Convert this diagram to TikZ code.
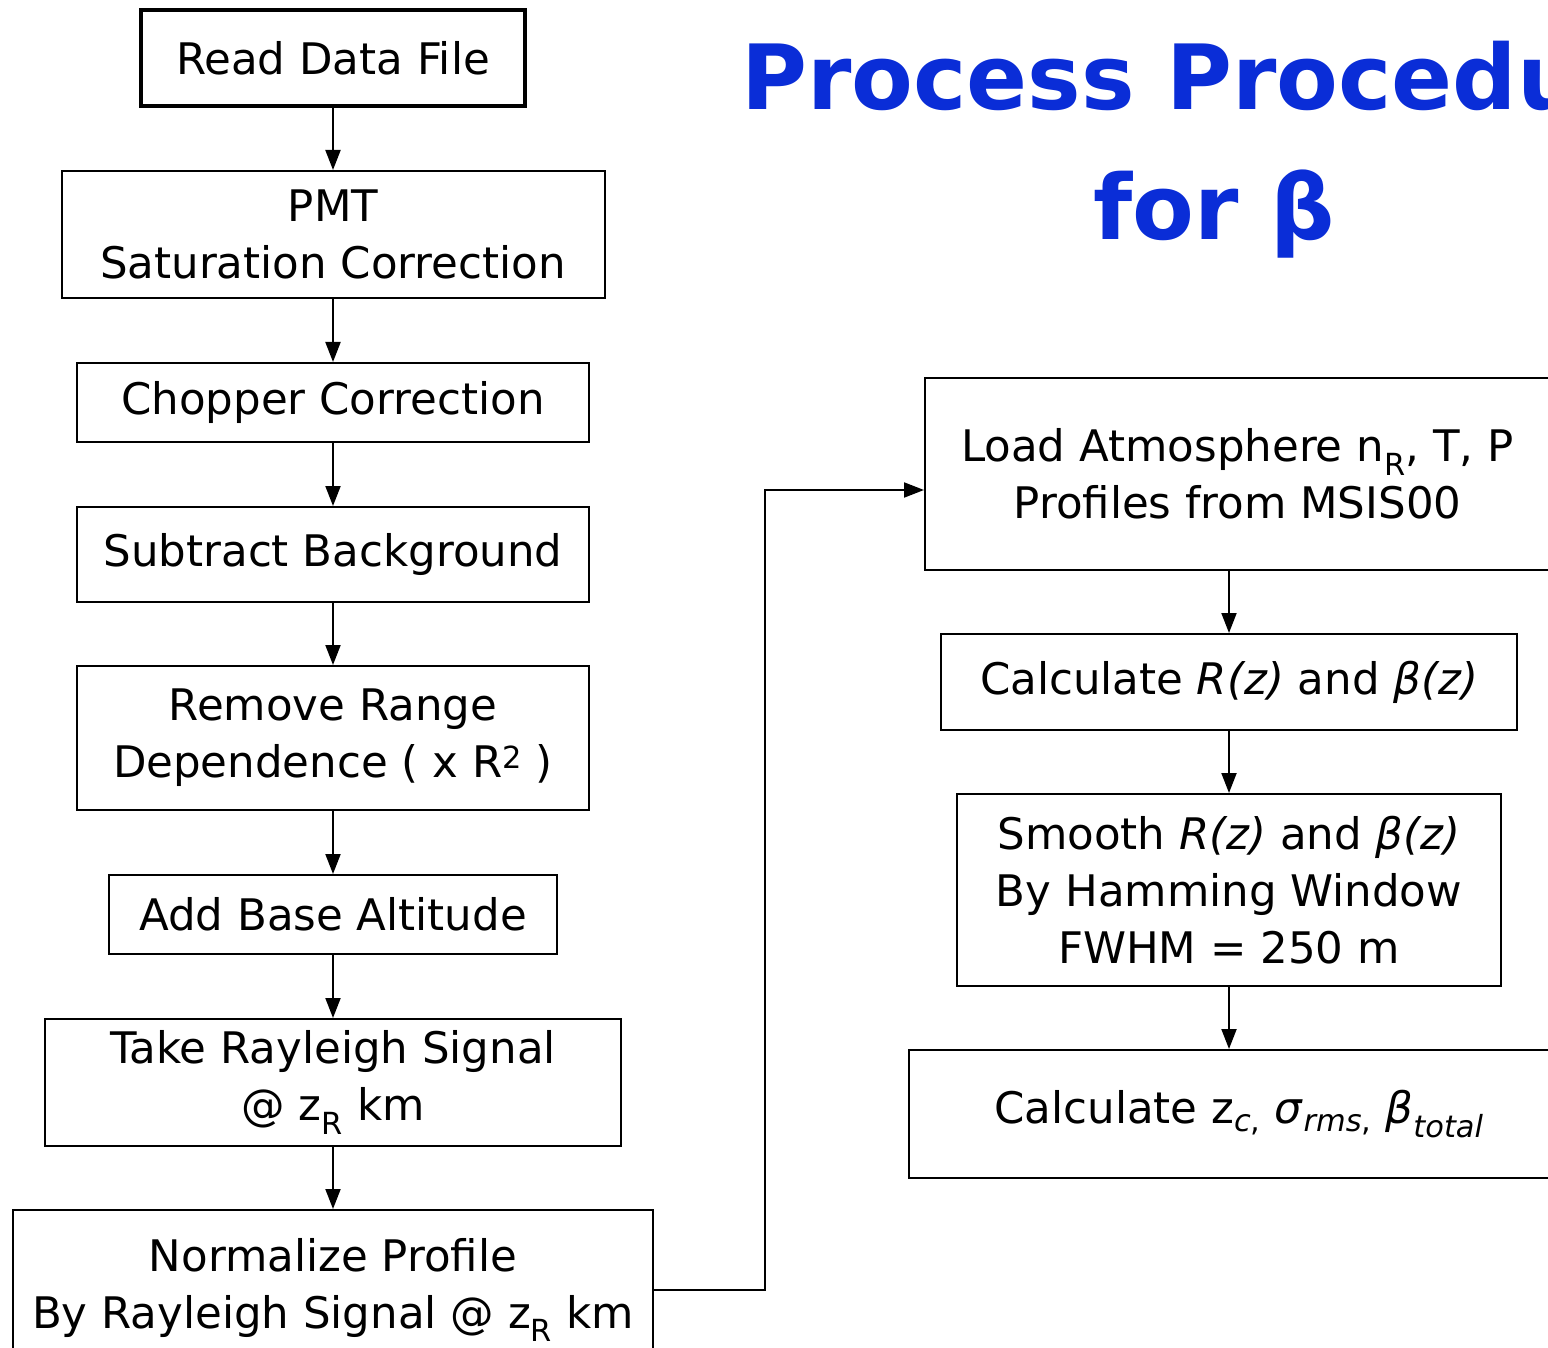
\documentclass[tikz,border=0pt]{standalone}
\usepackage{fontspec}
\setmainfont{DejaVu Sans}
\usetikzlibrary{arrows.meta}
\definecolor{titleblue}{RGB}{10,45,215}
\tikzset{
  box/.style={draw, line width=2pt, inner sep=0pt, align=center,
    font=\fontsize{43.5}{57}\selectfont},
  arr/.style={line width=2pt, -{Triangle[length=20pt,width=15pt]}},
  titletext/.style={font=\fontsize{90}{130}\selectfont\bfseries, text=titleblue, anchor=base, inner sep=0pt}
}
\begin{document}
\begin{tikzpicture}[x=1pt,y=-1pt]
\useasboundingbox (0,0) rectangle (1548,1348);
\clip (0,0) rectangle (1548,1348);
\fill[white] (0,0) rectangle (1548,1348);

% left column
\node[box, line width=3.5pt, minimum width=384pt, minimum height=96pt] (n1) at (333,58) {Read Data File};
\node[box, minimum width=543pt, minimum height=127pt] (n2) at (333,234.5) {PMT\\Saturation Correction};
\node[box, minimum width=512pt, minimum height=79pt] (n3) at (333,402.5) {Chopper Correction};
\node[box, minimum width=512pt, minimum height=95pt] (n4) at (333,554.5) {Subtract Background};
\node[box, minimum width=512pt, minimum height=144pt] (n5) at (333,738) {Remove Range\\Dependence ( x R\textsuperscript{2} )};
\node[box, minimum width=448pt, minimum height=79pt] (n6) at (333,914.5) {Add Base Altitude};
\node[box, minimum width=576pt, minimum height=127pt] (n7) at (333,1082.5) {Take Rayleigh Signal\\@ z\textsubscript{R} km};
\node[box, minimum width=640pt, minimum height=160pt] (n8) at (333,1290) {Normalize Profile\\By Rayleigh Signal @ z\textsubscript{R} km};

% right column
\node[box, minimum width=625pt, minimum height=192pt] (n9) at (1237.5,474) {Load Atmosphere n\textsubscript{R}, T, P\\Profiles from MSIS00};
\node[box, minimum width=576pt, minimum height=96pt] (n10) at (1229,682) {Calculate \textit{R(z)} and \textit{β(z)}};
\node[box, minimum width=544pt, minimum height=192pt] (n11) at (1229,890) {Smooth \textit{R(z)} and \textit{β(z)}\\By Hamming Window\\FWHM = 250 m};
\node[box, minimum width=660pt, minimum height=128pt] (n12) at (1239,1114) {Calculate z\textsubscript{\textit{c},} \textit{σ}\textsubscript{\textit{rms},} \textit{β}\textsubscript{\textit{total}}};

% title
\node[titletext] (t1) at (1214,110) {Process Procedure};
\node[titletext] (t2) at (1214,240) {for β};

% connectors
\draw[arr] (n1) -- (n2);
\draw[arr] (n2) -- (n3);
\draw[arr] (n3) -- (n4);
\draw[arr] (n4) -- (n5);
\draw[arr] (n5) -- (n6);
\draw[arr] (n6) -- (n7);
\draw[arr] (n7) -- (n8);
\coordinate (turn) at (765,1290);
\draw[arr] (n8.east) -- (turn) |- ([yshift=-16pt]n9.west);
\draw[arr] (n9.south -| n10.north) -- (n10.north);
\draw[arr] (n10) -- (n11);
\draw[arr] (n11.south) -- (n11.south |- n12.north);
\end{tikzpicture}
\end{document}
